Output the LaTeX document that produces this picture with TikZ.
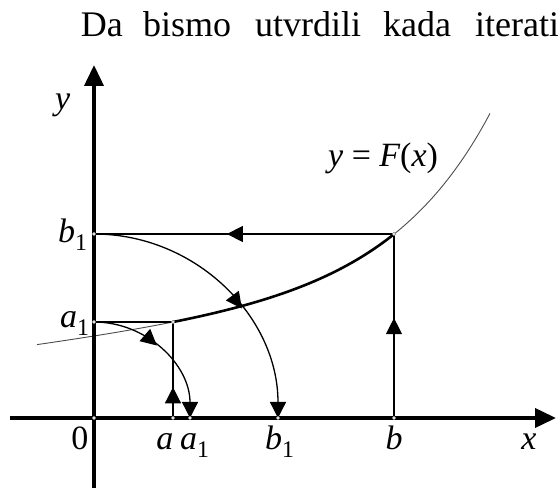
\documentclass[tikz,border=0pt]{standalone}
\usepackage{fontspec}
\setmainfont{Liberation Serif}
\usetikzlibrary{arrows.meta,decorations.markings}
\begin{document}
\begin{tikzpicture}[x=1pt,y=1pt,
  axis/.style={line width=3.8pt,-{Triangle[length=21pt,width=19pt]}},
  thinln/.style={line width=1.3pt},
  midarrow/.style={postaction={decorate},decoration={markings,mark=at position #1 with {\arrow{Triangle[length=16pt,width=16pt]}}}},
  endarrow/.style={-{Triangle[length=16pt,width=16pt]}},
  lab/.style={font=\fontsize{34}{40}\selectfont\itshape, inner sep=0pt},
  toptext/.style={font=\fontsize{36}{43}\selectfont, inner sep=0pt, anchor=base west},
  dot/.style={circle,fill=white,draw=gray,line width=0.5pt,inner sep=0pt,minimum size=3.5pt}
]
\useasboundingbox (-94,-70) rectangle (464,418);

% top text line
\node[toptext] (w1) at (-13.3,381) {Da};
\node[toptext] (w2) at (49,381) {bismo};
\node[toptext] (w3) at (161,381) {utvrdili};
\node[toptext] (w4) at (289,381) {kada};
\node[toptext] (w5) at (381,381) {iterati};

% points
\coordinate (O) at (0,0);
\coordinate (A) at (79,0);
\coordinate (A1x) at (96,0);
\coordinate (B1x) at (184,0);
\coordinate (B) at (300,0);
\coordinate (A1y) at (0,96);
\coordinate (B1y) at (0,184);
\coordinate (Pa) at (79,96);
\coordinate (Pb) at (300,184);
\coordinate (xs) at (-84,0);
\coordinate (xe) at (462,0);
\coordinate (ys) at (0,-70);
\coordinate (ye) at (0,353);

% curve y = F(x)
\draw[gray!60!black, line width=0.9pt] plot[domain=-57:396, samples=120] (\x, {78.65+0.1258*\x+3.365*exp(0.01*\x)});
\draw[black, line width=2.6pt] plot[domain=79:300, samples=80] (\x, {78.65+0.1258*\x+3.365*exp(0.01*\x)});

% iteration lines
\draw[thinln, midarrow=0.543] (B) -- (Pb);
\draw[thinln, midarrow=0.557] (Pb) -- (B1y);
\draw[thinln, midarrow=0.32] (A) -- (Pa);
\draw[thinln] (A1y) -- (Pa);
\draw[thinln, midarrow=0.594, endarrow] (B1y) arc[start angle=90, end angle=0, radius=184];
\draw[thinln, midarrow=0.455, endarrow] (A1y) arc[start angle=90, end angle=0, radius=96];

% axes
\draw[axis] (xs) -- (xe);
\draw[axis] (ys) -- (ye);

% small markers
\foreach \p in {O,A,A1x,B1x,B,A1y,B1y,Pa,Pb}
  \node[dot] (d\p) at (\p) {};

% labels
\node[lab, anchor=base] (l0) at (-14,-32) {\upshape 0};
\node[lab, anchor=base] (la) at (71,-32) {a};
\node[lab, anchor=base west] (la1) at (86,-32) {a\textsubscript{\upshape 1}};
\node[lab, anchor=base west] (lb1) at (171,-32) {b\textsubscript{\upshape 1}};
\node[lab, anchor=base] (lb) at (300,-32) {b};
\node[lab, anchor=base] (lx) at (435,-32) {x};
\node[lab, anchor=base west] (lyb1) at (-36,175) {b\textsubscript{\upshape 1}};
\node[lab, anchor=base west] (lya1) at (-34,90) {a\textsubscript{\upshape 1}};
\node[lab, anchor=base west] (ly) at (-39,308) {y};
\node[lab, anchor=base west] (lF) at (234,251) {y {\upshape =} F{\upshape (}x{\upshape )}};
\end{tikzpicture}
\end{document}
